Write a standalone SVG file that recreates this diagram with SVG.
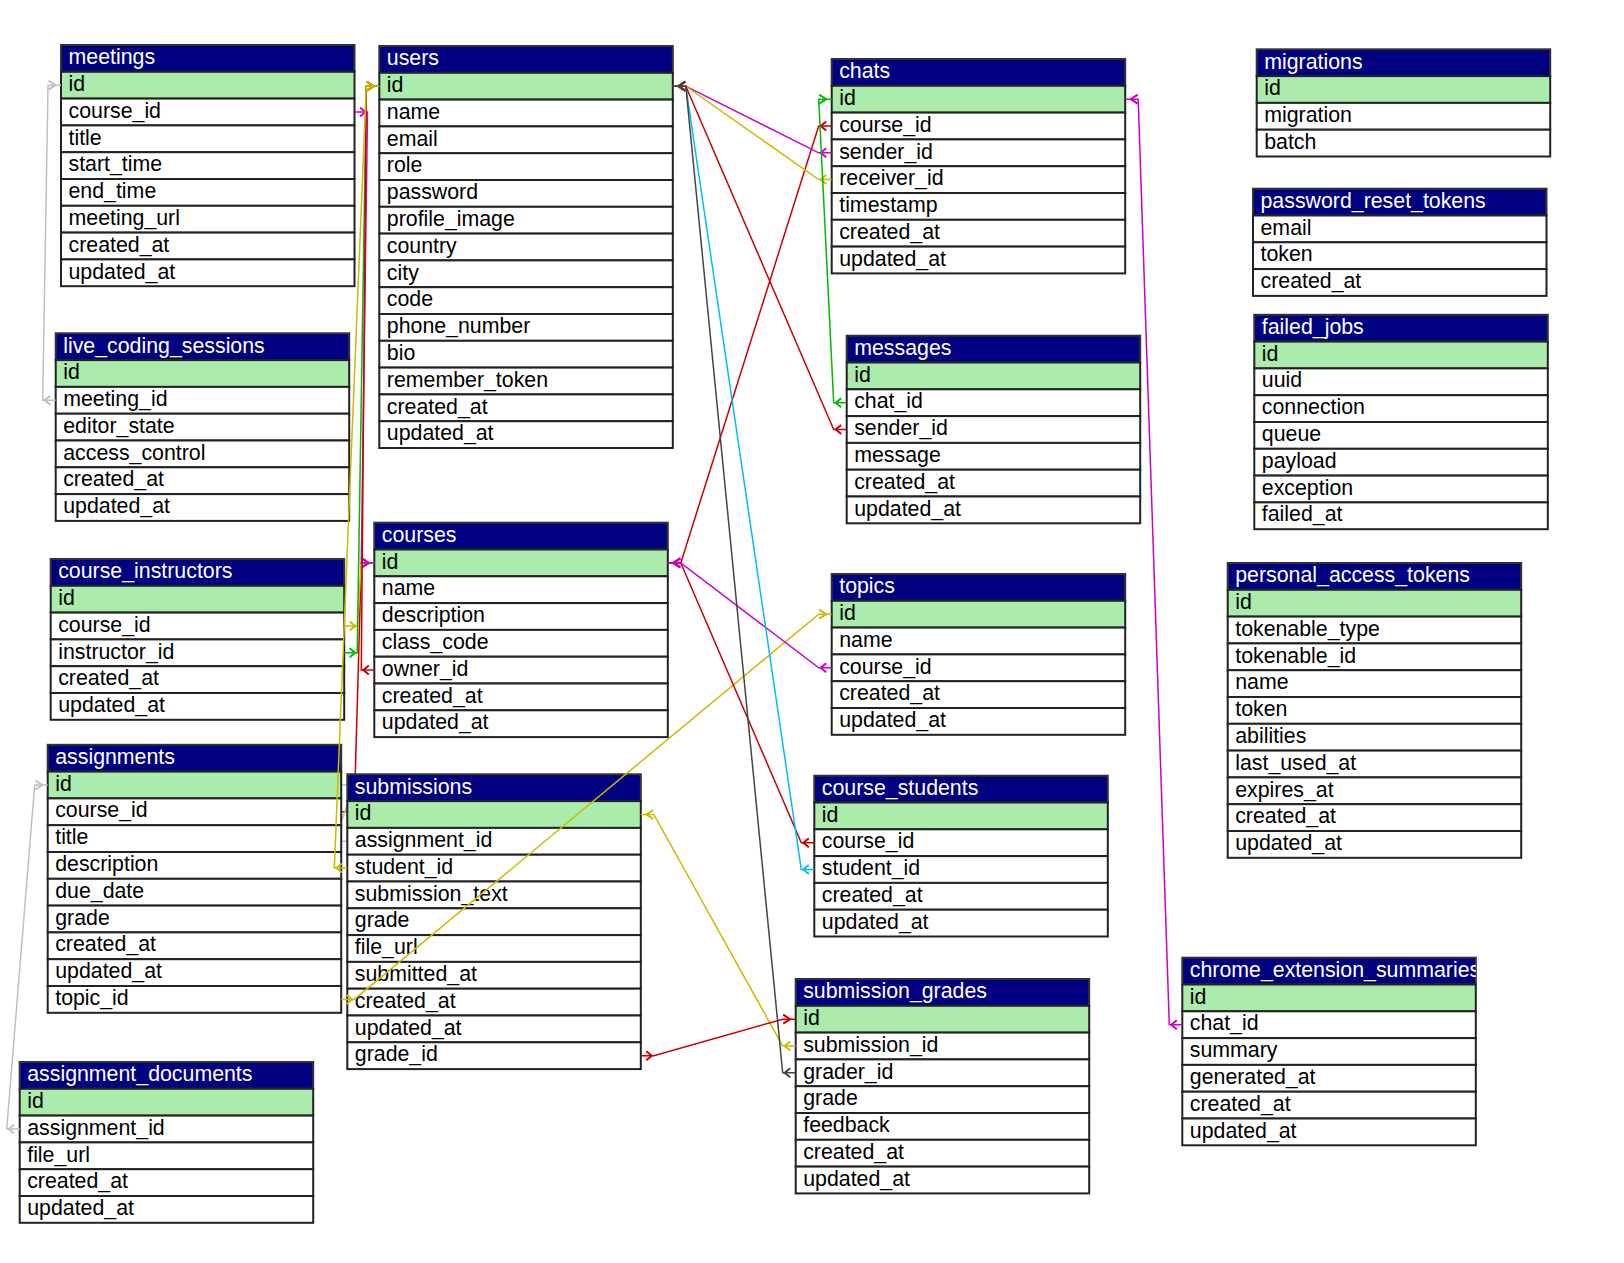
<svg xmlns="http://www.w3.org/2000/svg" width="1624" height="1263" viewBox="0 0 1624 1263">
<style>
.hd{fill:#000080;stroke:#333;stroke-width:2}
.pk{fill:#ABEBAB;stroke:#222;stroke-width:2}
.rw{fill:#fff;stroke:#222;stroke-width:2}
text{font-family:"Liberation Sans",Arial,sans-serif;font-size:21.33px;fill:#000}
.ht{fill:#fff}
.c{fill:none;stroke-width:1.5}
.m{fill:none;stroke-width:2}
.gy{stroke:#c0c0c0}.mg{stroke:#cc00cc}.yl{stroke:#ccbb00}.rd{stroke:#cc0000}.gn{stroke:#00bb00}.cy{stroke:#00bbff}.dk{stroke:#444}
</style>
<defs>
<marker id="fk-gy" markerUnits="userSpaceOnUse" orient="auto" overflow="visible" markerWidth="1" markerHeight="1"><path class="m gy" d="M5.5,-4.5L11,0L5.5,4.5"/></marker>
<marker id="pk-gy" markerUnits="userSpaceOnUse" orient="auto" overflow="visible" markerWidth="1" markerHeight="1"><path class="m gy" d="M-12.5,-4.5L-5.5,0L-12.5,4.5"/></marker>
<marker id="fk-mg" markerUnits="userSpaceOnUse" orient="auto" overflow="visible" markerWidth="1" markerHeight="1"><path class="m mg" d="M5.5,-4.5L11,0L5.5,4.5"/></marker>
<marker id="pk-mg" markerUnits="userSpaceOnUse" orient="auto" overflow="visible" markerWidth="1" markerHeight="1"><path class="m mg" d="M-12.5,-4.5L-5.5,0L-12.5,4.5"/></marker>
<marker id="fk-yl" markerUnits="userSpaceOnUse" orient="auto" overflow="visible" markerWidth="1" markerHeight="1"><path class="m yl" d="M5.5,-4.5L11,0L5.5,4.5"/></marker>
<marker id="pk-yl" markerUnits="userSpaceOnUse" orient="auto" overflow="visible" markerWidth="1" markerHeight="1"><path class="m yl" d="M-12.5,-4.5L-5.5,0L-12.5,4.5"/></marker>
<marker id="fk-rd" markerUnits="userSpaceOnUse" orient="auto" overflow="visible" markerWidth="1" markerHeight="1"><path class="m rd" d="M5.5,-4.5L11,0L5.5,4.5"/></marker>
<marker id="pk-rd" markerUnits="userSpaceOnUse" orient="auto" overflow="visible" markerWidth="1" markerHeight="1"><path class="m rd" d="M-12.5,-4.5L-5.5,0L-12.5,4.5"/></marker>
<marker id="fk-gn" markerUnits="userSpaceOnUse" orient="auto" overflow="visible" markerWidth="1" markerHeight="1"><path class="m gn" d="M5.5,-4.5L11,0L5.5,4.5"/></marker>
<marker id="pk-gn" markerUnits="userSpaceOnUse" orient="auto" overflow="visible" markerWidth="1" markerHeight="1"><path class="m gn" d="M-12.5,-4.5L-5.5,0L-12.5,4.5"/></marker>
<marker id="fk-cy" markerUnits="userSpaceOnUse" orient="auto" overflow="visible" markerWidth="1" markerHeight="1"><path class="m cy" d="M5.5,-4.5L11,0L5.5,4.5"/></marker>
<marker id="pk-cy" markerUnits="userSpaceOnUse" orient="auto" overflow="visible" markerWidth="1" markerHeight="1"><path class="m cy" d="M-12.5,-4.5L-5.5,0L-12.5,4.5"/></marker>
<marker id="fk-dk" markerUnits="userSpaceOnUse" orient="auto" overflow="visible" markerWidth="1" markerHeight="1"><path class="m dk" d="M5.5,-4.5L11,0L5.5,4.5"/></marker>
<marker id="pk-dk" markerUnits="userSpaceOnUse" orient="auto" overflow="visible" markerWidth="1" markerHeight="1"><path class="m dk" d="M-12.5,-4.5L-5.5,0L-12.5,4.5"/></marker>
<clipPath id="clip-ces"><rect x="0" y="0" width="293.5" height="26.8"/></clipPath>
</defs>

<g id="connectors-under">
<polyline class="c rd" marker-start="url(#fk-rd)" marker-end="url(#pk-rd)" points="341.2,811.8 354.2,811.8 361.3,562.9 374.3,562.9"/>
<polyline class="c gy" marker-start="url(#fk-gy)" marker-end="url(#pk-gy)" points="347.3,841.3 334.3,841.3 354.2,785 341.2,785"/>
</g>

<g id="meetings" transform="translate(61,45)">
<rect class="hd" width="293.5" height="26.8"/><text class="ht" x="7.5" y="19.3">meetings</text>
<rect class="pk" y="26.8" width="293.5" height="26.8"/><text x="7.5" y="45.9">id</text>
<rect class="rw" y="53.6" width="293.5" height="26.8"/><text x="7.5" y="72.7">course_id</text>
<rect class="rw" y="80.4" width="293.5" height="26.8"/><text x="7.5" y="99.5">title</text>
<rect class="rw" y="107.2" width="293.5" height="26.8"/><text x="7.5" y="126.3">start_time</text>
<rect class="rw" y="134" width="293.5" height="26.8"/><text x="7.5" y="153.1">end_time</text>
<rect class="rw" y="160.8" width="293.5" height="26.8"/><text x="7.5" y="179.9">meeting_url</text>
<rect class="rw" y="187.6" width="293.5" height="26.8"/><text x="7.5" y="206.7">created_at</text>
<rect class="rw" y="214.4" width="293.5" height="26.8"/><text x="7.5" y="233.5">updated_at</text>
</g>

<g id="users" transform="translate(379.3,46)">
<rect class="hd" width="293.5" height="26.8"/><text class="ht" x="7.5" y="19.3">users</text>
<rect class="pk" y="26.8" width="293.5" height="26.8"/><text x="7.5" y="45.9">id</text>
<rect class="rw" y="53.6" width="293.5" height="26.8"/><text x="7.5" y="72.7">name</text>
<rect class="rw" y="80.4" width="293.5" height="26.8"/><text x="7.5" y="99.5">email</text>
<rect class="rw" y="107.2" width="293.5" height="26.8"/><text x="7.5" y="126.3">role</text>
<rect class="rw" y="134" width="293.5" height="26.8"/><text x="7.5" y="153.1">password</text>
<rect class="rw" y="160.8" width="293.5" height="26.8"/><text x="7.5" y="179.9">profile_image</text>
<rect class="rw" y="187.6" width="293.5" height="26.8"/><text x="7.5" y="206.7">country</text>
<rect class="rw" y="214.4" width="293.5" height="26.8"/><text x="7.5" y="233.5">city</text>
<rect class="rw" y="241.2" width="293.5" height="26.8"/><text x="7.5" y="260.3">code</text>
<rect class="rw" y="268" width="293.5" height="26.8"/><text x="7.5" y="287.1">phone_number</text>
<rect class="rw" y="294.8" width="293.5" height="26.8"/><text x="7.5" y="313.9">bio</text>
<rect class="rw" y="321.6" width="293.5" height="26.8"/><text x="7.5" y="340.7">remember_token</text>
<rect class="rw" y="348.4" width="293.5" height="26.8"/><text x="7.5" y="367.5">created_at</text>
<rect class="rw" y="375.2" width="293.5" height="26.8"/><text x="7.5" y="394.3">updated_at</text>
</g>

<g id="chats" transform="translate(831.7,59)">
<rect class="hd" width="293.5" height="26.8"/><text class="ht" x="7.5" y="19.3">chats</text>
<rect class="pk" y="26.8" width="293.5" height="26.8"/><text x="7.5" y="45.9">id</text>
<rect class="rw" y="53.6" width="293.5" height="26.8"/><text x="7.5" y="72.7">course_id</text>
<rect class="rw" y="80.4" width="293.5" height="26.8"/><text x="7.5" y="99.5">sender_id</text>
<rect class="rw" y="107.2" width="293.5" height="26.8"/><text x="7.5" y="126.3">receiver_id</text>
<rect class="rw" y="134" width="293.5" height="26.8"/><text x="7.5" y="153.1">timestamp</text>
<rect class="rw" y="160.8" width="293.5" height="26.8"/><text x="7.5" y="179.9">created_at</text>
<rect class="rw" y="187.6" width="293.5" height="26.8"/><text x="7.5" y="206.7">updated_at</text>
</g>

<g id="migrations" transform="translate(1256.7,49.3)">
<rect class="hd" width="293.5" height="26.8"/><text class="ht" x="7.5" y="19.3">migrations</text>
<rect class="pk" y="26.8" width="293.5" height="26.8"/><text x="7.5" y="45.9">id</text>
<rect class="rw" y="53.6" width="293.5" height="26.8"/><text x="7.5" y="72.7">migration</text>
<rect class="rw" y="80.4" width="293.5" height="26.8"/><text x="7.5" y="99.5">batch</text>
</g>

<g id="password_reset_tokens" transform="translate(1253,188.7)">
<rect class="hd" width="293.5" height="26.8"/><text class="ht" x="7.5" y="19.3">password_reset_tokens</text>
<rect class="rw" y="26.8" width="293.5" height="26.8"/><text x="7.5" y="45.9">email</text>
<rect class="rw" y="53.6" width="293.5" height="26.8"/><text x="7.5" y="72.7">token</text>
<rect class="rw" y="80.4" width="293.5" height="26.8"/><text x="7.5" y="99.5">created_at</text>
</g>

<g id="live_coding_sessions" transform="translate(55.7,333.3)">
<rect class="hd" width="293.5" height="26.8"/><text class="ht" x="7.5" y="19.3">live_coding_sessions</text>
<rect class="pk" y="26.8" width="293.5" height="26.8"/><text x="7.5" y="45.9">id</text>
<rect class="rw" y="53.6" width="293.5" height="26.8"/><text x="7.5" y="72.7">meeting_id</text>
<rect class="rw" y="80.4" width="293.5" height="26.8"/><text x="7.5" y="99.5">editor_state</text>
<rect class="rw" y="107.2" width="293.5" height="26.8"/><text x="7.5" y="126.3">access_control</text>
<rect class="rw" y="134" width="293.5" height="26.8"/><text x="7.5" y="153.1">created_at</text>
<rect class="rw" y="160.8" width="293.5" height="26.8"/><text x="7.5" y="179.9">updated_at</text>
</g>

<g id="messages" transform="translate(846.7,335.7)">
<rect class="hd" width="293.5" height="26.8"/><text class="ht" x="7.5" y="19.3">messages</text>
<rect class="pk" y="26.8" width="293.5" height="26.8"/><text x="7.5" y="45.9">id</text>
<rect class="rw" y="53.6" width="293.5" height="26.8"/><text x="7.5" y="72.7">chat_id</text>
<rect class="rw" y="80.4" width="293.5" height="26.8"/><text x="7.5" y="99.5">sender_id</text>
<rect class="rw" y="107.2" width="293.5" height="26.8"/><text x="7.5" y="126.3">message</text>
<rect class="rw" y="134" width="293.5" height="26.8"/><text x="7.5" y="153.1">created_at</text>
<rect class="rw" y="160.8" width="293.5" height="26.8"/><text x="7.5" y="179.9">updated_at</text>
</g>

<g id="failed_jobs" transform="translate(1254.3,314.8)">
<rect class="hd" width="293.5" height="26.8"/><text class="ht" x="7.5" y="19.3">failed_jobs</text>
<rect class="pk" y="26.8" width="293.5" height="26.8"/><text x="7.5" y="45.9">id</text>
<rect class="rw" y="53.6" width="293.5" height="26.8"/><text x="7.5" y="72.7">uuid</text>
<rect class="rw" y="80.4" width="293.5" height="26.8"/><text x="7.5" y="99.5">connection</text>
<rect class="rw" y="107.2" width="293.5" height="26.8"/><text x="7.5" y="126.3">queue</text>
<rect class="rw" y="134" width="293.5" height="26.8"/><text x="7.5" y="153.1">payload</text>
<rect class="rw" y="160.8" width="293.5" height="26.8"/><text x="7.5" y="179.9">exception</text>
<rect class="rw" y="187.6" width="293.5" height="26.8"/><text x="7.5" y="206.7">failed_at</text>
</g>

<g id="courses" transform="translate(374.3,522.7)">
<rect class="hd" width="293.5" height="26.8"/><text class="ht" x="7.5" y="19.3">courses</text>
<rect class="pk" y="26.8" width="293.5" height="26.8"/><text x="7.5" y="45.9">id</text>
<rect class="rw" y="53.6" width="293.5" height="26.8"/><text x="7.5" y="72.7">name</text>
<rect class="rw" y="80.4" width="293.5" height="26.8"/><text x="7.5" y="99.5">description</text>
<rect class="rw" y="107.2" width="293.5" height="26.8"/><text x="7.5" y="126.3">class_code</text>
<rect class="rw" y="134" width="293.5" height="26.8"/><text x="7.5" y="153.1">owner_id</text>
<rect class="rw" y="160.8" width="293.5" height="26.8"/><text x="7.5" y="179.9">created_at</text>
<rect class="rw" y="187.6" width="293.5" height="26.8"/><text x="7.5" y="206.7">updated_at</text>
</g>

<g id="course_instructors" transform="translate(50.7,559)">
<rect class="hd" width="293.5" height="26.8"/><text class="ht" x="7.5" y="19.3">course_instructors</text>
<rect class="pk" y="26.8" width="293.5" height="26.8"/><text x="7.5" y="45.9">id</text>
<rect class="rw" y="53.6" width="293.5" height="26.8"/><text x="7.5" y="72.7">course_id</text>
<rect class="rw" y="80.4" width="293.5" height="26.8"/><text x="7.5" y="99.5">instructor_id</text>
<rect class="rw" y="107.2" width="293.5" height="26.8"/><text x="7.5" y="126.3">created_at</text>
<rect class="rw" y="134" width="293.5" height="26.8"/><text x="7.5" y="153.1">updated_at</text>
</g>

<g id="topics" transform="translate(831.7,574)">
<rect class="hd" width="293.5" height="26.8"/><text class="ht" x="7.5" y="19.3">topics</text>
<rect class="pk" y="26.8" width="293.5" height="26.8"/><text x="7.5" y="45.9">id</text>
<rect class="rw" y="53.6" width="293.5" height="26.8"/><text x="7.5" y="72.7">name</text>
<rect class="rw" y="80.4" width="293.5" height="26.8"/><text x="7.5" y="99.5">course_id</text>
<rect class="rw" y="107.2" width="293.5" height="26.8"/><text x="7.5" y="126.3">created_at</text>
<rect class="rw" y="134" width="293.5" height="26.8"/><text x="7.5" y="153.1">updated_at</text>
</g>

<g id="personal_access_tokens" transform="translate(1227.7,563)">
<rect class="hd" width="293.5" height="26.8"/><text class="ht" x="7.5" y="19.3">personal_access_tokens</text>
<rect class="pk" y="26.8" width="293.5" height="26.8"/><text x="7.5" y="45.9">id</text>
<rect class="rw" y="53.6" width="293.5" height="26.8"/><text x="7.5" y="72.7">tokenable_type</text>
<rect class="rw" y="80.4" width="293.5" height="26.8"/><text x="7.5" y="99.5">tokenable_id</text>
<rect class="rw" y="107.2" width="293.5" height="26.8"/><text x="7.5" y="126.3">name</text>
<rect class="rw" y="134" width="293.5" height="26.8"/><text x="7.5" y="153.1">token</text>
<rect class="rw" y="160.8" width="293.5" height="26.8"/><text x="7.5" y="179.9">abilities</text>
<rect class="rw" y="187.6" width="293.5" height="26.8"/><text x="7.5" y="206.7">last_used_at</text>
<rect class="rw" y="214.4" width="293.5" height="26.8"/><text x="7.5" y="233.5">expires_at</text>
<rect class="rw" y="241.2" width="293.5" height="26.8"/><text x="7.5" y="260.3">created_at</text>
<rect class="rw" y="268" width="293.5" height="26.8"/><text x="7.5" y="287.1">updated_at</text>
</g>

<g id="assignments" transform="translate(47.7,744.8)">
<rect class="hd" width="293.5" height="26.8"/><text class="ht" x="7.5" y="19.3">assignments</text>
<rect class="pk" y="26.8" width="293.5" height="26.8"/><text x="7.5" y="45.9">id</text>
<rect class="rw" y="53.6" width="293.5" height="26.8"/><text x="7.5" y="72.7">course_id</text>
<rect class="rw" y="80.4" width="293.5" height="26.8"/><text x="7.5" y="99.5">title</text>
<rect class="rw" y="107.2" width="293.5" height="26.8"/><text x="7.5" y="126.3">description</text>
<rect class="rw" y="134" width="293.5" height="26.8"/><text x="7.5" y="153.1">due_date</text>
<rect class="rw" y="160.8" width="293.5" height="26.8"/><text x="7.5" y="179.9">grade</text>
<rect class="rw" y="187.6" width="293.5" height="26.8"/><text x="7.5" y="206.7">created_at</text>
<rect class="rw" y="214.4" width="293.5" height="26.8"/><text x="7.5" y="233.5">updated_at</text>
<rect class="rw" y="241.2" width="293.5" height="26.8"/><text x="7.5" y="260.3">topic_id</text>
</g>

<g id="submissions" transform="translate(347.3,774.3)">
<rect class="hd" width="293.5" height="26.8"/><text class="ht" x="7.5" y="19.3">submissions</text>
<rect class="pk" y="26.8" width="293.5" height="26.8"/><text x="7.5" y="45.9">id</text>
<rect class="rw" y="53.6" width="293.5" height="26.8"/><text x="7.5" y="72.7">assignment_id</text>
<rect class="rw" y="80.4" width="293.5" height="26.8"/><text x="7.5" y="99.5">student_id</text>
<rect class="rw" y="107.2" width="293.5" height="26.8"/><text x="7.5" y="126.3">submission_text</text>
<rect class="rw" y="134" width="293.5" height="26.8"/><text x="7.5" y="153.1">grade</text>
<rect class="rw" y="160.8" width="293.5" height="26.8"/><text x="7.5" y="179.9">file_url</text>
<rect class="rw" y="187.6" width="293.5" height="26.8"/><text x="7.5" y="206.7">submitted_at</text>
<rect class="rw" y="214.4" width="293.5" height="26.8"/><text x="7.5" y="233.5">created_at</text>
<rect class="rw" y="241.2" width="293.5" height="26.8"/><text x="7.5" y="260.3">updated_at</text>
<rect class="rw" y="268" width="293.5" height="26.8"/><text x="7.5" y="287.1">grade_id</text>
</g>

<g id="course_students" transform="translate(814.3,775.7)">
<rect class="hd" width="293.5" height="26.8"/><text class="ht" x="7.5" y="19.3">course_students</text>
<rect class="pk" y="26.8" width="293.5" height="26.8"/><text x="7.5" y="45.9">id</text>
<rect class="rw" y="53.6" width="293.5" height="26.8"/><text x="7.5" y="72.7">course_id</text>
<rect class="rw" y="80.4" width="293.5" height="26.8"/><text x="7.5" y="99.5">student_id</text>
<rect class="rw" y="107.2" width="293.5" height="26.8"/><text x="7.5" y="126.3">created_at</text>
<rect class="rw" y="134" width="293.5" height="26.8"/><text x="7.5" y="153.1">updated_at</text>
</g>

<g id="submission_grades" transform="translate(795.7,979)">
<rect class="hd" width="293.5" height="26.8"/><text class="ht" x="7.5" y="19.3">submission_grades</text>
<rect class="pk" y="26.8" width="293.5" height="26.8"/><text x="7.5" y="45.9">id</text>
<rect class="rw" y="53.6" width="293.5" height="26.8"/><text x="7.5" y="72.7">submission_id</text>
<rect class="rw" y="80.4" width="293.5" height="26.8"/><text x="7.5" y="99.5">grader_id</text>
<rect class="rw" y="107.2" width="293.5" height="26.8"/><text x="7.5" y="126.3">grade</text>
<rect class="rw" y="134" width="293.5" height="26.8"/><text x="7.5" y="153.1">feedback</text>
<rect class="rw" y="160.8" width="293.5" height="26.8"/><text x="7.5" y="179.9">created_at</text>
<rect class="rw" y="187.6" width="293.5" height="26.8"/><text x="7.5" y="206.7">updated_at</text>
</g>

<g id="chrome_extension_summaries" transform="translate(1182.3,957.7)">
<rect class="hd" width="293.5" height="26.8"/><text class="ht" x="7.5" y="19.3" clip-path="url(#clip-ces)">chrome_extension_summaries</text>
<rect class="pk" y="26.8" width="293.5" height="26.8"/><text x="7.5" y="45.9">id</text>
<rect class="rw" y="53.6" width="293.5" height="26.8"/><text x="7.5" y="72.7">chat_id</text>
<rect class="rw" y="80.4" width="293.5" height="26.8"/><text x="7.5" y="99.5">summary</text>
<rect class="rw" y="107.2" width="293.5" height="26.8"/><text x="7.5" y="126.3">generated_at</text>
<rect class="rw" y="134" width="293.5" height="26.8"/><text x="7.5" y="153.1">created_at</text>
<rect class="rw" y="160.8" width="293.5" height="26.8"/><text x="7.5" y="179.9">updated_at</text>
</g>

<g id="assignment_documents" transform="translate(19.7,1062)">
<rect class="hd" width="293.5" height="26.8"/><text class="ht" x="7.5" y="19.3">assignment_documents</text>
<rect class="pk" y="26.8" width="293.5" height="26.8"/><text x="7.5" y="45.9">id</text>
<rect class="rw" y="53.6" width="293.5" height="26.8"/><text x="7.5" y="72.7">assignment_id</text>
<rect class="rw" y="80.4" width="293.5" height="26.8"/><text x="7.5" y="99.5">file_url</text>
<rect class="rw" y="107.2" width="293.5" height="26.8"/><text x="7.5" y="126.3">created_at</text>
<rect class="rw" y="134" width="293.5" height="26.8"/><text x="7.5" y="153.1">updated_at</text>
</g>

<g id="connectors">
<polyline class="c gy" marker-start="url(#fk-gy)" marker-end="url(#pk-gy)" points="55.7,400.3 42.7,400.3 48,85.2 61,85.2"/>
<polyline class="c yl" marker-start="url(#fk-yl)" marker-end="url(#pk-yl)" points="344.2,626 357.2,626 361.3,562.9 374.3,562.9"/>
<polyline class="c mg" marker-start="url(#fk-mg)" marker-end="url(#pk-mg)" points="354.5,112 367.5,112 361.3,562.9 374.3,562.9"/>
<polyline class="c gn" marker-start="url(#fk-gn)" marker-end="url(#pk-gn)" points="344.2,652.8 357.2,652.8 366.3,86.2 379.3,86.2"/>
<polyline class="c rd" marker-start="url(#fk-rd)" marker-end="url(#pk-rd)" points="374.3,670.1 361.3,670.1 366.3,86.2 379.3,86.2"/>
<polyline class="c yl" marker-start="url(#fk-yl)" marker-end="url(#pk-yl)" points="347.3,868.1 334.3,868.1 366.3,86.2 379.3,86.2"/>
<polyline class="c yl" marker-start="url(#fk-yl)" marker-end="url(#pk-yl)" points="341.2,999.4 354.2,999.4 818.7,614.2 831.7,614.2"/>
<polyline class="c gy" marker-start="url(#fk-gy)" marker-end="url(#pk-gy)" points="19.7,1129 6.7,1129 34.7,785 47.7,785"/>
<polyline class="c yl" marker-start="url(#fk-yl)" marker-end="url(#pk-yl)" points="795.7,1046 782.7,1046 653.8,814.5 640.8,814.5"/>
<polyline class="c rd" marker-start="url(#fk-rd)" marker-end="url(#pk-rd)" points="640.8,1055.7 653.8,1055.7 782.7,1019.2 795.7,1019.2"/>
<polyline class="c rd" marker-start="url(#fk-rd)" marker-end="url(#pk-rd)" points="814.3,842.7 801.3,842.7 680.8,562.9 667.8,562.9"/>
<polyline class="c rd" marker-start="url(#fk-rd)" marker-end="url(#pk-rd)" points="831.7,126 818.7,126 680.8,562.9 667.8,562.9"/>
<polyline class="c mg" marker-start="url(#fk-mg)" marker-end="url(#pk-mg)" points="831.7,667.8 818.7,667.8 680.8,562.9 667.8,562.9"/>
<polyline class="c cy" marker-start="url(#fk-cy)" marker-end="url(#pk-cy)" points="814.3,869.5 801.3,869.5 685.8,86.2 672.8,86.2"/>
<polyline class="c mg" marker-start="url(#fk-mg)" marker-end="url(#pk-mg)" points="831.7,152.8 818.7,152.8 685.8,86.2 672.8,86.2"/>
<polyline class="c yl" marker-start="url(#fk-yl)" marker-end="url(#pk-yl)" points="831.7,179.6 818.7,179.6 685.8,86.2 672.8,86.2"/>
<polyline class="c rd" marker-start="url(#fk-rd)" marker-end="url(#pk-rd)" points="846.7,429.5 833.7,429.5 685.8,86.2 672.8,86.2"/>
<polyline class="c dk" marker-start="url(#fk-dk)" marker-end="url(#pk-dk)" points="795.7,1072.8 782.7,1072.8 685.8,86.2 672.8,86.2"/>
<polyline class="c gn" marker-start="url(#fk-gn)" marker-end="url(#pk-gn)" points="846.7,402.7 833.7,402.7 818.7,99.2 831.7,99.2"/>
<polyline class="c mg" marker-start="url(#fk-mg)" marker-end="url(#pk-mg)" points="1182.3,1024.7 1169.3,1024.7 1138.2,99.2 1125.2,99.2"/>
</g>
</svg>
